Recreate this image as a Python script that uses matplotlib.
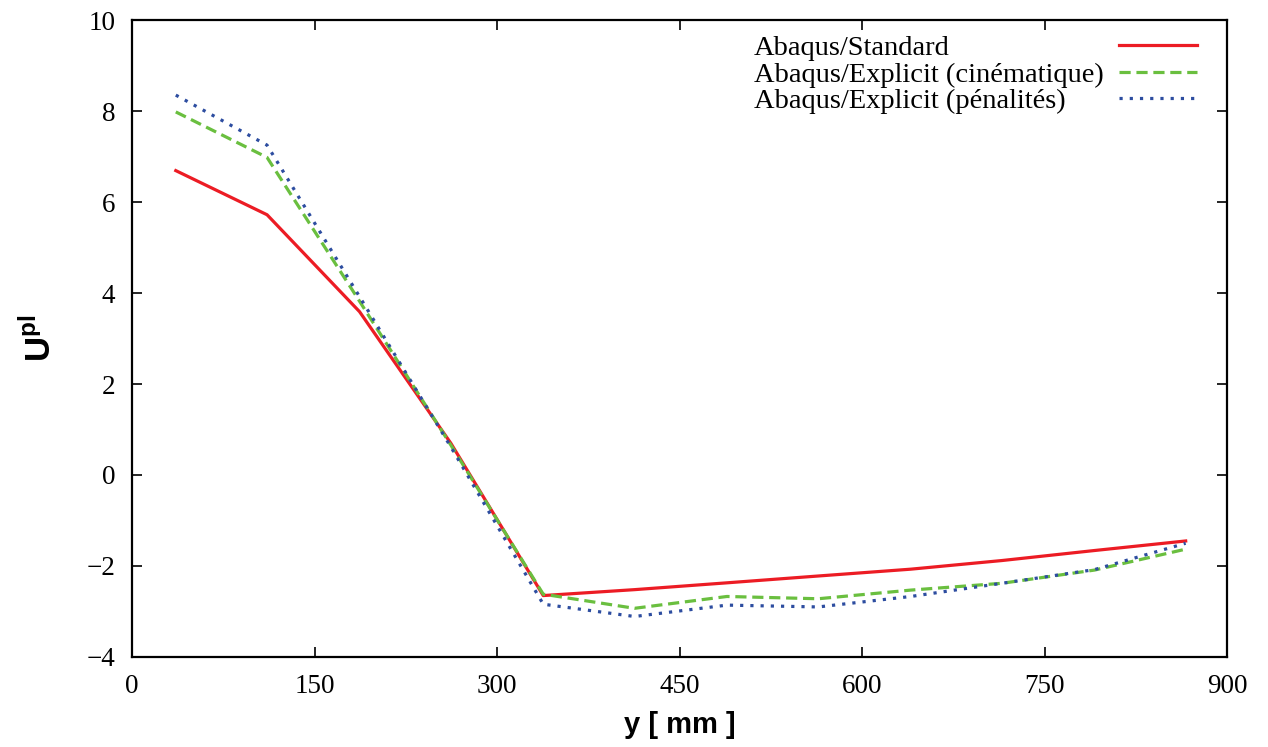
import matplotlib
matplotlib.use("Agg")
import matplotlib.pyplot as plt
from matplotlib.lines import Line2D

# positions along y (mm)
y_pos = [36, 111, 187, 262, 338, 413, 489, 564, 640, 715, 791, 866]

# plastic displacement for each model
u_standard = [6.69, 5.72, 3.59, 0.70, -2.65, -2.52, -2.37, -2.22, -2.07, -1.88, -1.66, -1.45]
u_kinematic = [7.98, 6.98, 3.82, 0.66, -2.62, -2.93, -2.67, -2.72, -2.53, -2.38, -2.09, -1.63]
u_penalty = [8.35, 7.25, 3.92, 0.62, -2.84, -3.11, -2.86, -2.90, -2.67, -2.38, -2.08, -1.50]

labels = ["Abaqus/Standard", "Abaqus/Explicit (cinématique)", "Abaqus/Explicit (pénalités)"]
x_ticks = [0, 150, 300, 450, 600, 750, 900]
y_ticks = [-4, -2, 0, 2, 4, 6, 8, 10]

plt.rcParams["font.family"] = ["Liberation Serif", "DejaVu Serif"]
plt.rcParams["mathtext.fontset"] = "custom"
plt.rcParams["mathtext.bf"] = "Liberation Sans:bold"
plt.rcParams["mathtext.rm"] = "Liberation Sans"

fig = plt.figure(figsize=(12.68, 7.47), dpi=100)
ax = fig.add_axes([0.1041, 0.1205, 0.8636, 0.8527])

l1, = ax.plot(y_pos, u_standard, color="#ec1c24", lw=2.3)
l2, = ax.plot(y_pos, u_kinematic, color="#6abf3f", lw=2.3, dashes=(3.5, 1.8))
l3, = ax.plot(y_pos, u_penalty, color="#2d4da0", lw=2.3, dashes=(1, 2.2))

ax.set_xlim(0, 900)
ax.set_ylim(-4, 10)
ax.set_xticks(x_ticks)
ax.set_yticks(y_ticks)
ax.tick_params(direction="in", length=7, width=1.2, labelsize=19.5, pad=12,
               top=True, right=True)
for s in ax.spines.values():
    s.set_linewidth(1.6)

ax.set_xlabel("y [ mm ]", fontsize=21, fontweight="bold", family="Liberation Sans", labelpad=9)
ax.set_ylabel(r"$\mathbf{U}^{\mathbf{pl}}$", fontsize=25, labelpad=20)

# legend: text left-aligned, keys on the right (gnuplot style)
blank = [Line2D([], [], alpha=0)] * 3
leg_txt = ax.legend(blank, labels, loc="upper left", bbox_to_anchor=(0.555, 0.998),
                    frameon=False, fontsize=20.5, handlelength=0, handletextpad=0,
                    labelspacing=0.02, borderpad=0)
ax.add_artist(leg_txt)
ax.legend([l1, l2, l3], [" "] * 3, loc="upper right", bbox_to_anchor=(0.986, 0.998),
          frameon=False, fontsize=20.5, handlelength=2.75, handletextpad=0,
          labelspacing=0.02, borderpad=0, markerfirst=False)

fig.savefig("out.png", dpi=100)
plt.close(fig)
